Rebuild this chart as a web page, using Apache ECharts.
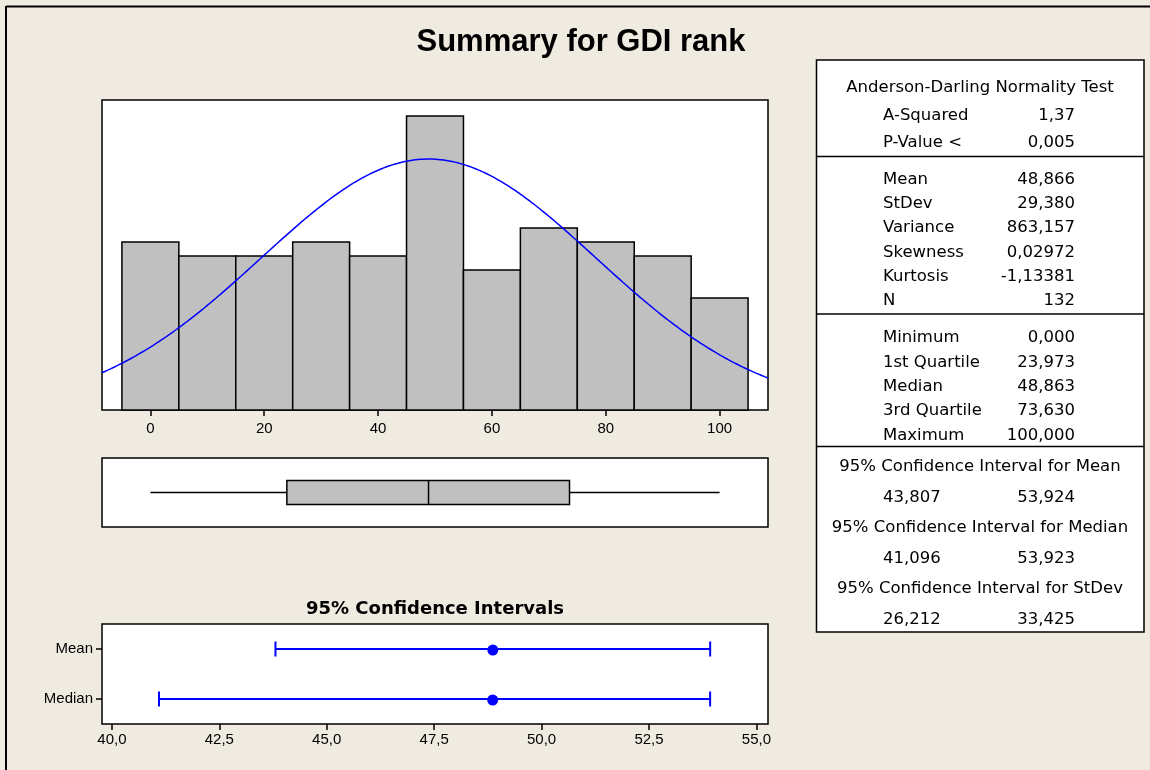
<!DOCTYPE html>
<html lang="en">
<head>
    <meta charset="UTF-8">
    <title>Summary for GDI rank</title>
    <script src="https://cdn.jsdelivr.net/npm/echarts@6.0.0/dist/echarts.min.js"></script>
    <style>
        html, body { margin: 0; padding: 0; background: #EFEBE1; }
        #main { width: 1150px; height: 770px; }
    </style>
</head>
<body>
<div id="main"></div>
<script>
    // histogram: bin starts (width 10) and counts
    var binStarts = [-5, 5, 15, 25, 35, 45, 55, 65, 75, 85, 95];
    var binCounts = [12, 11, 11, 12, 11, 21, 10, 13, 12, 11, 8];
    var binWidth = 10;
    var histTicks = [0, 20, 40, 60, 80, 100];

    // fitted normal curve uses the summary values
    var normMean = 48.866;
    var normStDev = 29.380;
    var normN = 132;

    // min, Q1, median, Q3, max
    var boxStats = [0.000, 23.973, 48.863, 73.630, 100.000];

    // 95% confidence intervals
    var ciNames = ['Mean', 'Median'];
    var ciLow = [43.807, 41.096];
    var ciMid = [48.866, 48.863];
    var ciHigh = [53.924, 53.923];
    var ciTicks = [40, 42.5, 45, 47.5, 50, 52.5, 55];

    // right hand table
    var adLabels = ['A-Squared', 'P-Value <'];
    var adValues = ['1,37', '0,005'];
    var descLabels = ['Mean', 'StDev', 'Variance', 'Skewness', 'Kurtosis', 'N'];
    var descValues = ['48,866', '29,380', '863,157', '0,02972', '-1,13381', '132'];
    var quartLabels = ['Minimum', '1st Quartile', 'Median', '3rd Quartile', 'Maximum'];
    var quartValues = ['0,000', '23,973', '48,863', '73,630', '100,000'];
    var ciHeaders = ['95% Confidence Interval for Mean', '95% Confidence Interval for Median', '95% Confidence Interval for StDev'];
    var ciLowText = ['43,807', '41,096', '26,212'];
    var ciHighText = ['53,924', '53,923', '33,425'];

    var myChart = echarts.init(document.getElementById('main'));

    // normal density scaled to counts
    var curve = [];
    for (var x = -8.5; x <= 108.5001; x += 0.5) {
        var z = (x - normMean) / normStDev;
        curve.push([x, normN * binWidth * Math.exp(-z * z / 2) / (normStDev * Math.sqrt(2 * Math.PI))]);
    }

    var axisFont = 'Liberation Sans';
    var tableFont = '16.5px "DejaVu Sans"';

    function txt(str, x, y, align, font) {
        return {
            type: 'text',
            style: {
                text: str, x: x, y: y, fill: '#000', font: font || tableFont,
                textAlign: align, align: align,
                textVerticalAlign: 'middle', verticalAlign: 'middle'
            }
        };
    }
    function hline(x1, x2, y, w) {
        return { type: 'line', shape: { x1: x1, y1: y, x2: x2, y2: y }, style: { stroke: '#000', lineWidth: w || 1.5 } };
    }

    var labelX = 883, valueX = 1075, midX = 980;
    var graphics = [
        // outer frame (left and top)
        { type: 'line', shape: { x1: 6, y1: 6, x2: 6, y2: 770 }, style: { stroke: '#000', lineWidth: 2 } },
        { type: 'line', shape: { x1: 6, y1: 6.5, x2: 1150, y2: 6.5 }, style: { stroke: '#000', lineWidth: 2 } },
        txt('Summary for GDI rank', 581, 42.5, 'center', 'bold 31px "Liberation Sans"'),
        txt('95% Confidence Intervals', 435, 609, 'center', 'bold 18px "DejaVu Sans"'),
        {
            type: 'rect', shape: { x: 816.5, y: 60, width: 327.5, height: 572 },
            style: { fill: '#fff', stroke: '#000', lineWidth: 1.5 }
        },
        hline(816.5, 1144, 156.5),
        hline(816.5, 1144, 314),
        hline(816.5, 1144, 446.5),
        txt('Anderson-Darling Normality Test', midX, 88, 'center')
    ];
    adLabels.forEach(function (l, i) {
        graphics.push(txt(l, labelX, 116 + i * 26.7, 'left'));
        graphics.push(txt(adValues[i], valueX, 116 + i * 26.7, 'right'));
    });
    descLabels.forEach(function (l, i) {
        graphics.push(txt(l, labelX, 180 + i * 24.1, 'left'));
        graphics.push(txt(descValues[i], valueX, 180 + i * 24.1, 'right'));
    });
    quartLabels.forEach(function (l, i) {
        graphics.push(txt(l, labelX, 338 + i * 24.4, 'left'));
        graphics.push(txt(quartValues[i], valueX, 338 + i * 24.4, 'right'));
    });
    ciHeaders.forEach(function (h, i) {
        var y0 = 466.5 + i * 61.3;
        graphics.push(txt(h, midX, y0, 'center'));
        graphics.push(txt(ciLowText[i], labelX, y0 + 31, 'left'));
        graphics.push(txt(ciHighText[i], valueX, y0 + 31, 'right'));
    });

    var tickStyle = { color: '#000', width: 1.5 };

    option = {
        backgroundColor: '#EFEBE1',
        animation: false,
        grid: [
            { left: 102, top: 100, width: 666, height: 310, show: true, backgroundColor: '#fff', borderColor: '#000', borderWidth: 1.5 },
            { left: 102, top: 458, width: 666, height: 69, show: true, backgroundColor: '#fff', borderColor: '#000', borderWidth: 1.5 },
            { left: 102, top: 624, width: 666, height: 100, show: true, backgroundColor: '#fff', borderColor: '#000', borderWidth: 1.5 }
        ],
        xAxis: [
            {
                gridIndex: 0, type: 'value', min: -8.5, max: 108.5,
                axisLine: { show: false }, splitLine: { show: false },
                axisTick: { show: true, customValues: histTicks, length: 6, lineStyle: tickStyle },
                axisLabel: { customValues: histTicks, margin: 11, fontSize: 15, color: '#000', fontFamily: axisFont }
            },
            { gridIndex: 1, type: 'value', min: -8.5, max: 108.5, show: false },
            {
                gridIndex: 2, type: 'value', min: 39.77, max: 55.27,
                axisLine: { show: false }, splitLine: { show: false },
                axisTick: { show: true, customValues: ciTicks, length: 6, lineStyle: tickStyle },
                axisLabel: {
                    customValues: ciTicks, margin: 8, fontSize: 15, color: '#000', fontFamily: axisFont,
                    formatter: function (v) { return v.toFixed(1).replace('.', ','); }
                }
            }
        ],
        yAxis: [
            { gridIndex: 0, type: 'value', min: 0, max: 22.14, show: false },
            { gridIndex: 1, type: 'category', data: ['GDI rank'], show: false },
            {
                gridIndex: 2, type: 'category', data: ciNames, inverse: true,
                axisLine: { show: false }, splitLine: { show: false },
                axisTick: { show: true, alignWithLabel: true, length: 6, lineStyle: tickStyle },
                axisLabel: { margin: 9, fontSize: 15, color: '#000', fontFamily: axisFont }
            }
        ],
        graphic: { elements: graphics },
        series: [
            {
                name: 'histogram',
                type: 'custom',
                xAxisIndex: 0, yAxisIndex: 0,
                data: binStarts.map(function (s, i) { return [s, s + binWidth, binCounts[i]]; }),
                encode: { x: [0, 1], y: 2 },
                renderItem: function (params, api) {
                    var p0 = api.coord([api.value(0), api.value(2)]);
                    var p1 = api.coord([api.value(1), 0]);
                    return {
                        type: 'rect',
                        shape: { x: p0[0], y: p0[1], width: p1[0] - p0[0], height: p1[1] - p0[1] },
                        style: { fill: '#C0C0C0', stroke: '#000', lineWidth: 1.5 }
                    };
                }
            },
            {
                name: 'normal',
                type: 'line',
                xAxisIndex: 0, yAxisIndex: 0,
                data: curve,
                showSymbol: false,
                clip: true,
                z: 5,
                lineStyle: { color: '#0000FF', width: 1.5 }
            },
            {
                name: 'boxplot',
                type: 'custom',
                xAxisIndex: 1, yAxisIndex: 1,
                data: [[0].concat(boxStats)],
                encode: { y: 0, x: [1, 2, 3, 4, 5] },
                renderItem: function (params, api) {
                    var c = api.value(0);
                    var pMin = api.coord([api.value(1), c]);
                    var pQ1 = api.coord([api.value(2), c]);
                    var pMed = api.coord([api.value(3), c]);
                    var pQ3 = api.coord([api.value(4), c]);
                    var pMax = api.coord([api.value(5), c]);
                    var y = pMin[1], h = 12;
                    var st = { stroke: '#000', lineWidth: 1.5 };
                    return {
                        type: 'group',
                        children: [
                            { type: 'line', shape: { x1: pMin[0], y1: y, x2: pQ1[0], y2: y }, style: st },
                            { type: 'line', shape: { x1: pQ3[0], y1: y, x2: pMax[0], y2: y }, style: st },
                            { type: 'rect', shape: { x: pQ1[0], y: y - h, width: pQ3[0] - pQ1[0], height: 2 * h }, style: { fill: '#C0C0C0', stroke: '#000', lineWidth: 1.5 } },
                            { type: 'line', shape: { x1: pMed[0], y1: y - h, x2: pMed[0], y2: y + h }, style: st }
                        ]
                    };
                }
            },
            {
                name: 'ci',
                type: 'custom',
                xAxisIndex: 2, yAxisIndex: 2,
                data: ciNames.map(function (n, i) { return [i, ciLow[i], ciMid[i], ciHigh[i]]; }),
                encode: { y: 0, x: [1, 2, 3] },
                renderItem: function (params, api) {
                    var c = api.value(0);
                    var lo = api.coord([api.value(1), c]);
                    var mid = api.coord([api.value(2), c]);
                    var hi = api.coord([api.value(3), c]);
                    var st = { stroke: '#0000FF', lineWidth: 2 };
                    return {
                        type: 'group',
                        children: [
                            { type: 'line', shape: { x1: lo[0], y1: lo[1], x2: hi[0], y2: hi[1] }, style: st },
                            { type: 'line', shape: { x1: lo[0], y1: lo[1] - 7.5, x2: lo[0], y2: lo[1] + 7.5 }, style: st },
                            { type: 'line', shape: { x1: hi[0], y1: hi[1] - 7.5, x2: hi[0], y2: hi[1] + 7.5 }, style: st },
                            { type: 'circle', shape: { cx: mid[0], cy: mid[1] + 1, r: 5.5 }, style: { fill: '#0000FF' } }
                        ]
                    };
                }
            }
        ]
    };
    myChart.setOption(option);
</script>
</body>
</html>
